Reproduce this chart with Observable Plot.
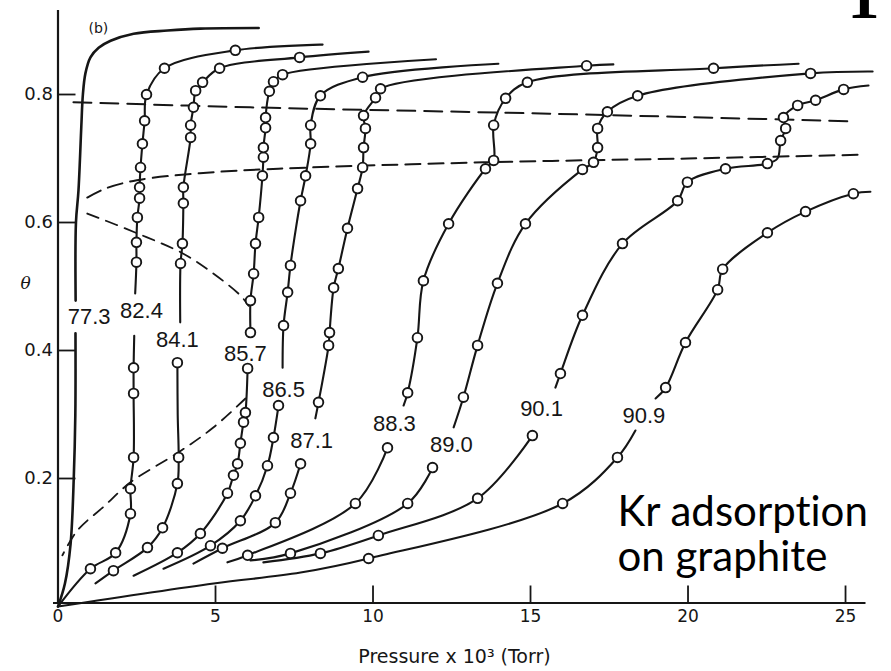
<!DOCTYPE html>
<html><head><meta charset="utf-8">
<script src="https://cdn.jsdelivr.net/npm/d3@7"></script>
<script src="https://cdn.jsdelivr.net/npm/@observablehq/plot@0.6"></script>
<style>
html,body{margin:0;padding:0;background:#fff;}
#chart{position:relative;width:891px;height:671px;overflow:hidden;}
#chart text{font-variant-ligatures:none;font-feature-settings:"liga" 0;}
</style></head><body><div id="chart"></div>
<script>
// Pressure x 10^3 (Torr), theta, measured point (1) or line-only (0); [null,null,0] = break in line
const iso773 = [[0,0,0],[0.22,0.036,0],[0.40,0.098,0],[0.50,0.20,0],[0.55,0.30,0],[0.555,0.427,0],[null,null,0],[0.56,0.478,0],[0.57,0.60,0],[0.65,0.65,0],[0.74,0.75,0],[0.79,0.80,0],[0.87,0.833,0],[1.03,0.858,0],[1.29,0.873,0],[1.67,0.884,0],[2.40,0.895,0],[3.48,0.90,0],[4.52,0.903,0],[6.37,0.904,0]];
const iso824 = [[0,0,0],[1.03,0.059,1],[1.83,0.084,1],[2.30,0.145,1],[2.30,0.184,1],[2.40,0.233,1],[2.40,0.333,1],[2.40,0.373,1],[2.42,0.423,0],[null,null,0],[2.45,0.489,0],[2.49,0.538,1],[2.49,0.569,1],[2.52,0.608,1],[2.59,0.638,1],[2.59,0.655,1],[2.62,0.686,1],[2.68,0.723,1],[2.75,0.759,1],[2.81,0.800,1],[3.38,0.841,1],[5.63,0.869,1],[8.40,0.878,0]];
const iso841 = [[1.19,0.036,0],[1.76,0.056,1],[2.84,0.092,1],[3.32,0.123,1],[3.79,0.192,1],[3.83,0.233,1],[3.80,0.30,0],[3.79,0.381,1],[null,null,0],[3.88,0.444,0],[3.89,0.536,1],[3.95,0.567,1],[3.98,0.630,1],[3.98,0.655,1],[4.21,0.733,1],[4.21,0.752,1],[4.30,0.780,1],[4.37,0.806,1],[4.59,0.819,1],[5.13,0.841,1],[7.67,0.858,1],[9.86,0.867,0]];
const iso857 = [[2.40,0.048,0],[3.79,0.084,1],[4.52,0.114,1],[5.38,0.177,1],[5.57,0.205,1],[5.70,0.223,1],[5.79,0.255,1],[5.89,0.288,1],[5.95,0.303,1],[6.02,0.372,1],[null,null,0],[6.11,0.428,1],[6.11,0.478,1],[6.21,0.520,1],[6.27,0.567,1],[6.37,0.608,1],[6.49,0.673,1],[6.52,0.702,1],[6.52,0.717,1],[6.59,0.748,1],[6.59,0.764,1],[6.71,0.805,1],[6.84,0.820,1],[7.13,0.831,1],[12.0,0.855,0]];
const iso865 = [[3.35,0.059,0],[4.84,0.095,1],[5.79,0.134,1],[6.27,0.173,1],[6.65,0.220,1],[6.84,0.264,1],[7.0,0.314,1],[null,null,0],[7.13,0.373,0],[7.16,0.439,1],[7.29,0.491,1],[7.38,0.533,1],[7.55,0.59,0],[7.70,0.634,1],[7.86,0.673,1],[8.02,0.723,1],[8.02,0.752,1],[8.33,0.798,1],[9.67,0.827,1],[13.98,0.848,0]];
const iso871 = [[4.30,0.067,0],[5.22,0.091,1],[6.90,0.131,1],[7.38,0.177,1],[7.70,0.223,1],[null,null,0],[8.17,0.294,0],[8.27,0.319,1],[8.59,0.408,1],[8.62,0.428,1],[8.75,0.498,1],[8.90,0.528,1],[9.19,0.591,1],[9.51,0.653,1],[9.67,0.686,1],[9.70,0.717,1],[9.76,0.747,1],[9.70,0.767,1],[10.08,0.795,1],[10.24,0.809,1],[16.78,0.845,1],[17.63,0.847,0]];
const iso883 = [[5.38,0.069,0],[6.02,0.080,1],[9.44,0.161,1],[10.46,0.248,1],[null,null,0],[10.97,0.314,0],[11.10,0.334,1],[11.41,0.420,1],[11.60,0.509,1],[12.40,0.598,1],[13.57,0.684,1],[13.83,0.697,1],[13.83,0.752,1],[14.21,0.794,1],[14.90,0.819,1],[20.81,0.841,1],[23.51,0.848,0]];
const iso890 = [[6.11,0.072,0],[7.38,0.083,1],[11.10,0.161,1],[11.89,0.217,1],[null,null,0],[12.56,0.280,0],[12.87,0.327,1],[13.32,0.408,1],[13.95,0.505,1],[14.84,0.598,1],[16.65,0.683,1],[17.0,0.694,1],[17.13,0.717,1],[17.13,0.747,1],[17.44,0.773,1],[18.40,0.798,1],[23.89,0.833,1],[25.86,0.836,0]];
const iso901 = [[6.52,0.069,0],[8.33,0.083,1],[10.17,0.111,1],[13.32,0.169,1],[15.06,0.267,1],[null,null,0],[15.79,0.342,0],[15.95,0.364,1],[16.65,0.455,1],[17.92,0.567,1],[19.67,0.634,1],[19.98,0.663,1],[21.19,0.684,1],[22.52,0.692,1],[22.84,0.700,0],[22.94,0.728,1],[23.10,0.747,1],[23.03,0.764,1],[23.48,0.783,1],[24.05,0.791,1],[24.94,0.808,1],[25.73,0.814,0]];
const iso909 = [[0,0,0],[4.94,0.036,0],[7.70,0.053,0],[9.86,0.075,1],[16.02,0.161,1],[17.76,0.233,1],[18.33,0.275,0],[null,null,0],[18.97,0.325,0],[19.29,0.342,1],[19.92,0.4125,1],[20.94,0.495,1],[21.10,0.527,1],[22.52,0.584,1],[23.73,0.617,1],[25.25,0.645,1],[25.79,0.648,0]];

// dashed boundary curves
const upperDash = [[0.49,0.788],[6.1,0.780],[15.6,0.770],[25.3,0.758]];
const lowerDash = [[0.93,0.639],[1.5,0.653],[2.5,0.666],[4.5,0.677],[7,0.684],[13.5,0.694],[20,0.700],[25.6,0.706]];
const domeUpper = [[0.93,0.614],[2.52,0.583],[3.95,0.552],[4.94,0.52],[5.79,0.486],[6.05,0.470]];
const domeLower = [[5.95,0.325],[4.94,0.28],[3.83,0.241],[2.3,0.194],[1.45,0.156],[0.62,0.119],[0.14,0.08]];

// temperature labels (K) and where they sit
const tempLabels = ["77.3","82.4","84.1","85.7","86.5","87.1","88.3","89.0","90.1","90.9"];
const labelP     = [0.99, 2.65, 3.79, 5.95, 7.16, 8.05, 10.68, 12.49, 15.35, 18.6];
const labelTheta = [0.452, 0.4625, 0.416, 0.395, 0.339, 0.259, 0.286, 0.253, 0.309, 0.298];

const xTicks = [0,5,10,15,20,25];
const yTicks = [0.2,0.4,0.6,0.8];

const isoList = [["77.3",iso773],["82.4",iso824],["84.1",iso841],["85.7",iso857],["86.5",iso865],["87.1",iso871],["88.3",iso883],["89.0",iso890],["90.1",iso901],["90.9",iso909]];
const rows = isoList.flatMap(([T, pts]) => pts.map(([p,t,m]) => ({T, p, t, m})));
const toObj = a => a.map(([p,t]) => ({p, t}));
const labels = tempLabels.map((s,i) => ({s, p: labelP[i], t: labelTheta[i]}));
const ink = "#161616";

const chart = Plot.plot({
  width: 891, height: 671,
  marginLeft: 57.5, marginRight: 25.5, marginTop: 10, marginBottom: 65,
  x: {domain: [0, 25.65], axis: null},
  y: {domain: [0, 0.93125], axis: null},
  style: {fontFamily: "DejaVu Sans", fontSize: "18px", color: ink, background: "white", overflow: "visible"},
  marks: [
    // axes
    Plot.ruleX([0], {stroke: ink, strokeWidth: 2.2, insetBottom: 3.5}),
    Plot.ruleY([0], {stroke: ink, strokeWidth: 2.2, dy: -3.5, insetLeft: -4.5}),
    Plot.ruleX(xTicks.filter(d => d > 0), {x: d => d, y1: 0, y2: 0, insetTop: -17, dy: -3.5, stroke: ink, strokeWidth: 1.8}),
    Plot.ruleY(yTicks, {y: d => d, x1: 0, x2: 0, insetRight: -18, stroke: ink, strokeWidth: 1.8}),
    Plot.text(xTicks, {x: d => d, frameAnchor: "bottom", dy: 15, text: d => String(d), fontSize: 17, fill: ink}),
    Plot.text(yTicks, {y: d => d, frameAnchor: "left", dx: -5, textAnchor: "end", text: d => d.toFixed(1), fontSize: 18, fill: ink}),
    Plot.text(["Pressure x 10³ (Torr)"], {frameAnchor: "bottom", dx: -7.5, dy: 56, lineAnchor: "bottom", fontSize: 19, fill: ink}),
    Plot.text(["θ"], {frameAnchor: "left", dx: -37.5, dy: -25, fontFamily: "DejaVu Serif", fontStyle: "italic", fontSize: 17, fill: ink}),
    Plot.text(["(b)"], {frameAnchor: "top-left", dx: 30.5, dy: 13, fontSize: 14, fill: ink}),
    // dashed boundaries
    Plot.line(toObj(upperDash), {x: "p", y: "t", stroke: ink, strokeWidth: 2, strokeDasharray: "18,9", curve: "catmull-rom"}),
    Plot.line(toObj(lowerDash), {x: "p", y: "t", stroke: ink, strokeWidth: 2, strokeDasharray: "15,8", curve: "catmull-rom"}),
    Plot.line(toObj(domeUpper), {x: "p", y: "t", stroke: ink, strokeWidth: 1.8, strokeDasharray: "12,8", curve: "catmull-rom"}),
    Plot.line(toObj(domeLower), {x: "p", y: "t", stroke: ink, strokeWidth: 1.8, strokeDasharray: "12,8", curve: "catmull-rom"}),
    // isotherms
    Plot.line(rows, {x: "p", y: "t", z: "T", stroke: ink, strokeWidth: d => d.T === "77.3" ? 2.6 : 2.1, curve: "catmull-rom"}),
    Plot.dot(rows.filter(d => d.m), {x: "p", y: "t", r: 4.8, fill: "white", stroke: ink, strokeWidth: 1.9}),
    Plot.text(labels, {x: "p", y: "t", text: "s", fontFamily: "Liberation Sans", fontSize: 22, fill: ink}),
    // annotation
    Plot.text(["Kr adsorption"], {frameAnchor: "bottom-right", dx: -248.5, dy: -81, textAnchor: "start", lineAnchor: "bottom", fontFamily: "Lato", fontSize: 42, fill: "#000"}),
    Plot.text(["on graphite"], {frameAnchor: "bottom-right", dx: -248.5, dy: -36, textAnchor: "start", lineAnchor: "bottom", fontFamily: "Lato", fontSize: 42, fill: "#000"}),
    Plot.text(["1"], {frameAnchor: "top-right", dx: 13.5, dy: 7, lineAnchor: "bottom", fontFamily: "Liberation Serif", fontWeight: "bold", fontSize: 64, fill: "#000"})
  ]
});
document.getElementById("chart").appendChild(chart);
</script></body></html>
